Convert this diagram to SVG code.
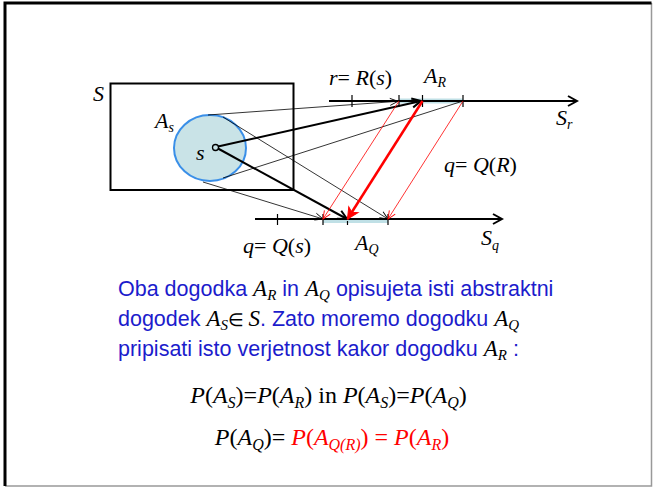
<svg xmlns="http://www.w3.org/2000/svg" width="653" height="488" viewBox="0 0 653 488">
<defs>
<style>
.m{font-family:"Liberation Serif","Times New Roman",serif;font-style:italic;fill:#000}
.r{font-style:normal}
.b{font-family:"Liberation Sans",Arial,sans-serif;fill:#1c1ccc;font-size:21.5px}
.ax{stroke:#000;stroke-width:2;fill:none}
.tk{stroke:#000;stroke-width:1.2}
.thin{stroke:#000;stroke-width:0.8;fill:none}
.thick{stroke:#000;stroke-width:2;fill:none}
.rthin{stroke:#ff0000;stroke-width:0.8;fill:none}
.rthick{stroke:#ff0000;stroke-width:2.5;fill:none}
.red{fill:#ff0000}
</style>
<marker id="ah" markerWidth="12" markerHeight="12" refX="10" refY="6" orient="auto" markerUnits="userSpaceOnUse"><path d="M1,1 L10,6 L1,11" fill="none" stroke="#000" stroke-width="2"/></marker>
<marker id="at" markerWidth="10" markerHeight="10" refX="9" refY="5" orient="auto" markerUnits="userSpaceOnUse"><path d="M1,1.5 L9,5 L1,8.5" fill="none" stroke="#000" stroke-width="0.9"/></marker>
<marker id="atk" markerWidth="12" markerHeight="12" refX="10" refY="6" orient="auto" markerUnits="userSpaceOnUse"><path d="M1,1.5 L10,6 L1,10.5" fill="none" stroke="#000" stroke-width="2"/></marker>
<marker id="rt" markerWidth="10" markerHeight="10" refX="9" refY="5" orient="auto" markerUnits="userSpaceOnUse"><path d="M1,1.5 L9,5 L1,8.5" fill="none" stroke="#ff0000" stroke-width="0.9"/></marker>
<marker id="rtk" markerWidth="14" markerHeight="14" refX="12" refY="7" orient="auto" markerUnits="userSpaceOnUse"><path d="M1,1.5 L12,7 L1,12.5 L4,7 Z" fill="#ff0000" stroke="#ff0000" stroke-width="1"/></marker>
</defs>
<rect width="653" height="488" fill="#fff"/>
<g id="frame">
<path d="M651.5,3 V486 H5" fill="none" stroke="#999" stroke-width="1.5"/>
<path d="M5,486 V3 H651.5" fill="none" stroke="#000" stroke-width="3"/>
</g>
<g id="setS">
<rect x="110.5" y="83.5" width="183" height="106.5" fill="none" stroke="#000" stroke-width="2"/>
<text class="m" x="93" y="101" font-size="22">S</text>
</g>
<g id="As">
<ellipse cx="210" cy="148" rx="36" ry="33" fill="#c9e3e7" stroke="#3a8fe8" stroke-width="2"/>
<circle cx="215.5" cy="147.5" r="3" fill="none" stroke="#000" stroke-width="1.3"/>
<text class="m" x="155" y="128" font-size="22">A<tspan font-size="14" dy="4">s</tspan></text>
<text class="m" x="196" y="160" font-size="22">s</text>
</g>
<g id="Sr">
<rect x="399" y="98.5" width="64" height="5" fill="#c0e0e6"/>
<line class="ax" x1="329" y1="101" x2="577" y2="101" marker-end="url(#ah)"/>
<line class="tk" x1="352" y1="95" x2="352" y2="107"/>
<line class="tk" x1="399" y1="95" x2="399" y2="107"/>
<line class="tk" x1="422.5" y1="95" x2="422.5" y2="107"/>
<line class="tk" x1="463" y1="95" x2="463" y2="107"/>
<text class="m" x="329" y="85" font-size="22">r<tspan class="r">= </tspan>R<tspan class="r">(</tspan>s<tspan class="r">)</tspan></text>
<text class="m" x="424" y="83" font-size="22">A<tspan font-size="14" dy="4">R</tspan></text>
<text class="m" x="556" y="125" font-size="22">S<tspan font-size="14" dy="4">r</tspan></text>
<text class="m" x="444" y="172" font-size="22">q<tspan class="r">= </tspan>Q<tspan class="r">(</tspan>R<tspan class="r">)</tspan></text>
</g>
<g id="Sq">
<rect x="323" y="219" width="65" height="4" fill="#c0e0e6"/>
<line class="ax" x1="255" y1="219" x2="502" y2="219" marker-end="url(#ah)"/>
<line class="tk" x1="277.5" y1="214" x2="277.5" y2="225"/>
<line class="tk" x1="323" y1="214" x2="323" y2="225"/>
<line class="tk" x1="347.5" y1="221" x2="347.5" y2="225"/>
<line class="tk" x1="388" y1="214" x2="388" y2="225"/>
<text class="m" x="243" y="253" font-size="22">q<tspan class="r">= </tspan>Q<tspan class="r">(</tspan>s<tspan class="r">)</tspan></text>
<text class="m" x="355" y="250" font-size="22">A<tspan font-size="14" dy="4">Q</tspan></text>
<text class="m" x="481" y="245" font-size="22">S<tspan font-size="14" dy="5">q</tspan></text>
</g>
<g id="connectors">
<line class="thin" x1="208" y1="115" x2="398" y2="101.3" marker-end="url(#at)"/>
<line class="thick" x1="218" y1="146.5" x2="421" y2="101" marker-end="url(#atk)"/>
<line class="thin" x1="223" y1="178" x2="463" y2="101"/>
<line class="thin" x1="223" y1="117" x2="388" y2="219" marker-end="url(#at)"/>
<line class="thick" x1="218" y1="148.5" x2="347" y2="219" marker-end="url(#atk)"/>
<line class="thin" x1="203" y1="182" x2="323" y2="219" marker-end="url(#at)"/>
<line class="rthin" x1="399" y1="101" x2="323" y2="219" marker-end="url(#rt)"/>
<line class="rthick" x1="422.5" y1="101" x2="347.5" y2="219" marker-end="url(#rtk)"/>
<line class="rthin" x1="463" y1="101" x2="388" y2="219" marker-end="url(#rt)"/>
</g>
<g id="explanation">
<text class="b" x="118" y="296">Oba dogodka <tspan class="m" font-size="23">A<tspan font-size="15" dy="4">R</tspan></tspan><tspan dy="-4"> in </tspan><tspan class="m" font-size="23">A<tspan font-size="15" dy="4">Q</tspan></tspan><tspan dy="-4"> opisujeta isti abstraktni</tspan></text>
<text class="b" x="118" y="326">dogodek <tspan class="m" font-size="23">A<tspan font-size="15" dy="4">S</tspan><tspan class="r" font-size="18" dy="-4">∈ </tspan>S</tspan>. Zato moremo dogodku <tspan class="m" font-size="23">A<tspan font-size="15" dy="4">Q</tspan></tspan></text>
<text class="b" x="118" y="356">pripisati isto verjetnost kakor dogodku <tspan class="m" font-size="23">A<tspan font-size="15" dy="4">R</tspan></tspan><tspan dy="-4"> :</tspan></text>
</g>
<g id="formulas">
<text class="m" x="328.5" y="403" font-size="24" text-anchor="middle">P<tspan class="r">(</tspan>A<tspan font-size="16" dy="5">S</tspan><tspan class="r" dy="-5">)=</tspan>P<tspan class="r">(</tspan>A<tspan font-size="16" dy="5">R</tspan><tspan class="r" dy="-5">) in </tspan>P<tspan class="r">(</tspan>A<tspan font-size="16" dy="5">S</tspan><tspan class="r" dy="-5">)=</tspan>P<tspan class="r">(</tspan>A<tspan font-size="16" dy="5">Q</tspan><tspan class="r" dy="-5">)</tspan></text>
<text class="m" x="332" y="445" font-size="24" text-anchor="middle">P<tspan class="r">(</tspan>A<tspan font-size="16" dy="5">Q</tspan><tspan class="r" dy="-5">)= </tspan><tspan class="red">P<tspan class="r">(</tspan>A<tspan font-size="16" dy="5">Q(R)</tspan><tspan class="r" dy="-5">) = </tspan>P<tspan class="r">(</tspan>A<tspan font-size="16" dy="5">R</tspan><tspan class="r" dy="-5">)</tspan></tspan></text>
</g>
</svg>
